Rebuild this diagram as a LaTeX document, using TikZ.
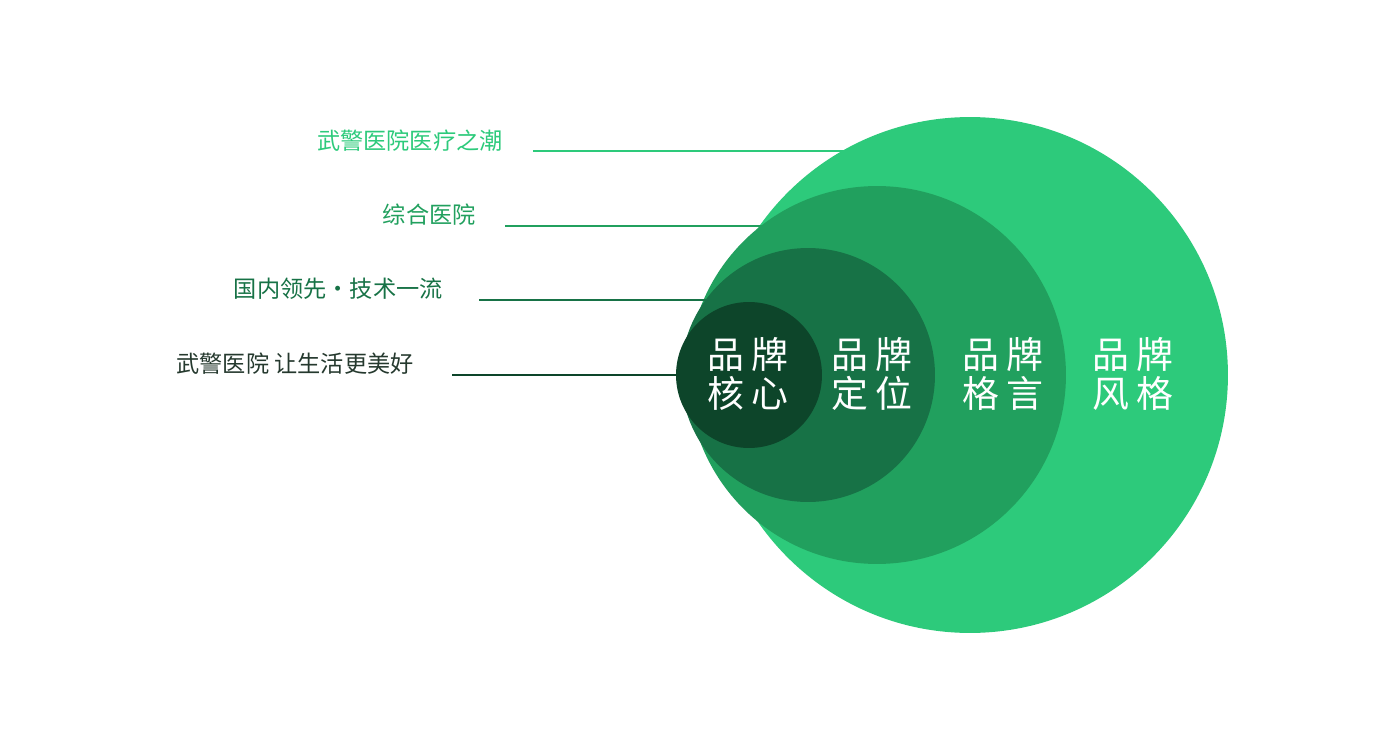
\documentclass[tikz,border=0pt]{standalone}
\usepackage{fontspec}
\newfontfamily\cjk{Noto Sans CJK SC}
\usepackage{tikz}
\usetikzlibrary{calc}
\definecolor{ringA}{HTML}{2DCA7B}
\definecolor{ringB}{HTML}{21A05E}
\definecolor{ringC}{HTML}{177246}
\definecolor{ringD}{HTML}{0D452A}
\definecolor{tagD}{HTML}{25392E}
\newcommand{\gp}{\hspace{0.19em}}
\tikzset{
  ring/.style={circle,fill=#1,draw=none,inner sep=0pt,outer sep=0pt},
  ringtext/.style={text=white,align=center,inner sep=0pt,font=\cjk\fontsize{21}{22}\selectfont},
  tag/.style={anchor=east,inner sep=0pt,text=#1,font=\cjk\fontsize{13.2}{15}\selectfont},
  lead/.style={draw=#1,line width=0.6pt}
}
\begin{document}
\begin{tikzpicture}[x=0.02cm,y=-0.02cm]
\useasboundingbox (0,0) rectangle (1400,750);
% rings, outer to inner
\node[ring=ringA,minimum size=10.32cm] (style) at (970,375) {};
\node[ring=ringB,minimum size=7.56cm] (motto) at (877,375) {};
\node[ring=ringC,minimum size=5.08cm] (place) at (808,375) {};
\node[ring=ringD,minimum size=2.92cm] (core) at (749,375) {};
\node[ringtext] (n1) at (748,374) {品\gp 牌\\核\gp 心};
\node[ringtext] (n2) at (872,374) {品\gp 牌\\定\gp 位};
\node[ringtext] (n3) at (1003,374) {品\gp 牌\\格\gp 言};
\node[ringtext] (n4) at (1133,374) {品\gp 牌\\风\gp 格};
% tags and leader lines
\coordinate (s1) at (533,151);
\coordinate (s2) at (505,226);
\coordinate (s3) at (479,300);
\coordinate (s4) at (452,375);
\node[tag=ringA] (t1) at ($(s1)+(-30,-10)$) {武警医院医疗之潮};
\node[tag=ringB] (t2) at ($(s2)+(-29,-11)$) {综合医院};
\node[tag=ringC] (t3) at ($(s3)+(-36,-11)$) {国内领先·技术一流};
\node[tag=tagD] (t4) at ($(s4)+(-38,-11)$) {武警医院 让生活更美好};
\draw[lead=ringA] (s1) -- (s1 -| style.119.74);
\draw[lead=ringB] (s2) -- (s2 -| motto.127.96);
\draw[lead=ringC] (s3) -- (s3 -| place.143.8);
\draw[lead=ringD] (s4) -- (core.west);
\end{tikzpicture}
\end{document}
